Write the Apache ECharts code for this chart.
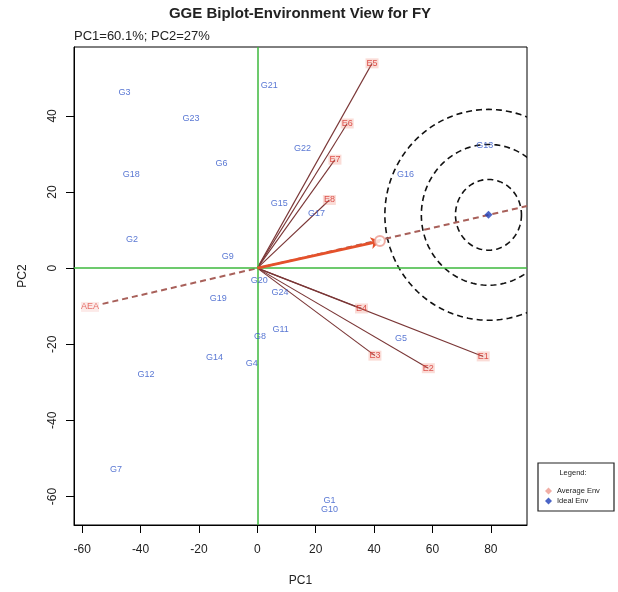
<!DOCTYPE html>
<html>
<head>
<meta charset="utf-8">
<title>GGE Biplot-Environment View for FY</title>
<script src="https://cdn.jsdelivr.net/npm/echarts@6/dist/echarts.min.js"></script>
<style>
  html, body { margin: 0; padding: 0; background: #fff; }
  #chart { width: 618px; height: 592px; }
</style>
</head>
<body>
<div id="chart"></div>
<script>
// Genotype scores (PC1, PC2)
const genoNames = ['G1','G2','G3','G4','G5','G6','G7','G8','G9','G10','G11','G12',
                   'G13','G14','G15','G16','G17','G18','G19','G20','G21','G22','G23','G24'];
const genoX = [24.7, -42.9, -45.5, -1.9, 49.2, -12.3, -48.4, 0.9, -10.1, 24.7, 8.0, -38.1,
               77.9, -14.7, 7.5, 50.8, 20.3, -43.2, -13.4, 0.7, 4.1, 15.5, -22.7, 7.8];
const genoY = [-61.1, 7.5, 46.2, -25.1, -18.6, 27.4, -52.8, -17.9, 3.0, -63.4, -16.2, -28.0,
               32.1, -23.4, 17.0, 24.7, 14.3, 24.7, -8.1, -3.3, 47.9, 31.5, 39.3, -6.4];

// Environment vectors (PC1, PC2)
const envNames = ['E1','E2','E3','E4','E5','E6','E7','E8'];
const envX = [77.4, 58.6, 40.3, 35.7, 39.3, 30.8, 26.6, 24.7];
const envY = [-23.2, -26.3, -23.0, -10.6, 53.8, 38.0, 28.5, 17.9];

// Average environment and ideal environment
const avgEnv = [42.0, 7.1];
const idealEnv = [79.2, 14.0];

// Average-environment axis (AEA) and its label
const aeaLabelPos = [-57.3, -10.2];
const aeaAxisX = [-53.0, 92.4];
const aeaAxisY = [-9.4, 16.3];

// Concentric rings around the ideal environment (half-widths in PC1 / PC2 units)
const ringRx = [11.3, 23.0, 35.5];
const ringRy = [9.3, 18.5, 27.7];

// Axes
const xTicks = [-60, -40, -20, 0, 20, 40, 60, 80];
const yTicks = [-60, -40, -20, 0, 20, 40];
const xRange = [-62.8, 92.4];
const yRange = [-67.5, 58.1];

const FONT = 'Liberation Sans, Arial, Helvetica, sans-serif';

const genoData = genoNames.map((n, i) => ({ name: n, value: [genoX[i], genoY[i]] }));
const envData = envNames.map((n, i) => ({ name: n, value: [envX[i], envY[i]] }));
const envVectors = envNames.map((n, i) => ({ coords: [[0, 0], [envX[i], envY[i]]] }));
const ringData = ringRx.map((rx, i) => [idealEnv[0], idealEnv[1], rx, ringRy[i]]);

// Dashed ring around the ideal environment, clipped to the plot area
function renderRing(params, api) {
  const c = api.coord([api.value(0), api.value(1)]);
  const s = api.size([api.value(2), api.value(3)]);
  const pts = [];
  const n = 160;
  for (let k = 0; k <= n; k++) {
    const a = k / n * Math.PI * 2;
    pts.push([c[0] + s[0] * Math.cos(a), c[1] + s[1] * Math.sin(a)]);
  }
  const cs = params.coordSys;
  return {
    type: 'polyline',
    shape: { points: pts },
    style: { stroke: '#111', fill: null, lineWidth: 1.6, lineDash: [6, 4] },
    clipPath: { type: 'rect', shape: { x: cs.x, y: cs.y, width: cs.width, height: cs.height } }
  };
}

const chart = echarts.init(document.getElementById('chart'), null, { renderer: 'canvas' });

chart.setOption({
  animation: false,
  backgroundColor: '#fff',
  textStyle: { fontFamily: FONT },
  title: [
    {
      text: 'GGE Biplot-Environment View for FY',
      left: 300, top: 6, textAlign: 'center', padding: 0,
      textStyle: { fontSize: 15, fontWeight: 'bold', color: '#222', fontFamily: FONT }
    },
    {
      text: 'PC1=60.1%; PC2=27%',
      left: 74, top: 30, padding: 0,
      textStyle: { fontSize: 13, fontWeight: 'normal', color: '#222', fontFamily: FONT }
    }
  ],
  grid: {
    left: 74, top: 47, width: 453, height: 480,
    show: true, borderColor: '#000', borderWidth: 1, backgroundColor: '#fff'
  },
  xAxis: {
    type: 'value', min: xRange[0], max: xRange[1],
    name: 'PC1', nameLocation: 'middle', nameGap: 50,
    nameTextStyle: { fontSize: 12, color: '#222', fontFamily: FONT },
    axisLine: { show: true, onZero: false, lineStyle: { color: '#000', width: 1 } },
    axisTick: { show: true, length: 8, customValues: xTicks, lineStyle: { color: '#000' } },
    axisLabel: { customValues: xTicks, fontSize: 12, color: '#222', margin: 19, fontFamily: FONT },
    splitLine: { show: false }
  },
  yAxis: {
    type: 'value', min: yRange[0], max: yRange[1],
    name: 'PC2', nameLocation: 'middle', nameGap: 45,
    nameTextStyle: { fontSize: 12, color: '#222', fontFamily: FONT, padding: [0, 0, 0, 20] },
    axisLine: { show: true, onZero: false, lineStyle: { color: '#000', width: 1 } },
    axisTick: { show: true, length: 8, customValues: yTicks, lineStyle: { color: '#000' } },
    axisLabel: { customValues: yTicks, fontSize: 12, color: '#222', margin: 15, rotate: 90, fontFamily: FONT },
    splitLine: { show: false }
  },
  legend: {
    orient: 'vertical', left: 545, top: 487, padding: 0, z: 6,
    itemWidth: 7, itemHeight: 7, itemGap: 2,
    textStyle: { fontSize: 7.5, color: '#222', fontFamily: FONT },
    data: [
      { name: 'Average Env', icon: 'diamond' },
      { name: 'Ideal Env', icon: 'diamond' }
    ]
  },
  graphic: [
    {
      type: 'rect', z: 3,
      shape: { x: 538, y: 463, width: 76, height: 48 },
      style: { fill: '#fff', stroke: '#222', lineWidth: 1.2 }
    },
    {
      type: 'text', z: 4, x: 573, y: 473,
      style: { text: 'Legend:', fontSize: 7.5, fill: '#222', align: 'center', verticalAlign: 'middle', fontFamily: FONT }
    }
  ],
  series: [
    {
      // PC1 = 0 and PC2 = 0 reference lines
      name: 'zero', type: 'line', data: [], z: 1,
      markLine: {
        silent: true, symbol: 'none', animation: false,
        label: { show: false },
        lineStyle: { color: '#3DB83D', width: 1.5, type: 'solid' },
        data: [{ xAxis: 0 }, { yAxis: 0 }]
      }
    },
    {
      name: 'rings', type: 'custom', z: 2, clip: true,
      renderItem: renderRing,
      encode: { x: 0, y: 1 },
      data: ringData,
      silent: true
    },
    {
      name: 'aea', type: 'lines', coordinateSystem: 'cartesian2d', z: 3,
      lineStyle: { color: '#A8605A', width: 2, type: [6, 4], opacity: 1 },
      data: [{ coords: [[aeaAxisX[0], aeaAxisY[0]], [aeaAxisX[1], aeaAxisY[1]]] }],
      silent: true
    },
    {
      name: 'envVectors', type: 'lines', coordinateSystem: 'cartesian2d', z: 4,
      lineStyle: { color: '#7A3636', width: 1.1, opacity: 1 },
      data: envVectors,
      silent: true
    },
    {
      name: 'avgArrow', type: 'lines', coordinateSystem: 'cartesian2d', z: 5,
      symbol: ['none', 'arrow'], symbolSize: 9,
      lineStyle: { color: '#E4512B', width: 3, opacity: 1 },
      data: [{ coords: [[0, 0], avgEnv] }],
      silent: true
    },
    {
      name: 'Average Env', type: 'scatter', z: 6,
      symbol: 'emptyCircle', symbolSize: 10,
      itemStyle: { color: '#EC9A8E', borderWidth: 1.2 },
      data: [avgEnv]
    },
    {
      name: 'Ideal Env', type: 'scatter', z: 6,
      symbol: 'diamond', symbolSize: 8,
      itemStyle: { color: '#1E3FB8' },
      data: [idealEnv]
    },
    {
      name: 'envLabels', type: 'scatter', z: 7,
      symbol: 'rect', symbolSize: [13, 10],
      itemStyle: { color: 'rgba(236,128,110,0.35)' },
      label: {
        show: true, position: 'inside', formatter: '{b}',
        fontSize: 9, color: '#D42E28', fontFamily: FONT
      },
      data: envData,
      silent: true
    },
    {
      name: 'aeaLabel', type: 'scatter', z: 7,
      symbol: 'rect', symbolSize: [18, 10],
      itemStyle: { color: 'rgba(240,150,140,0.25)' },
      label: {
        show: true, position: 'inside', formatter: 'AEA',
        fontSize: 9, color: '#E0504A', fontFamily: FONT
      },
      data: [aeaLabelPos],
      silent: true
    },
    {
      name: 'genotypes', type: 'scatter', z: 7,
      symbolSize: 0,
      itemStyle: { color: 'transparent' },
      label: {
        show: true, position: 'inside', formatter: '{b}',
        fontSize: 9, color: '#2F55C8', fontFamily: FONT
      },
      data: genoData,
      silent: true
    }
  ]
});
</script>
</body>
</html>
